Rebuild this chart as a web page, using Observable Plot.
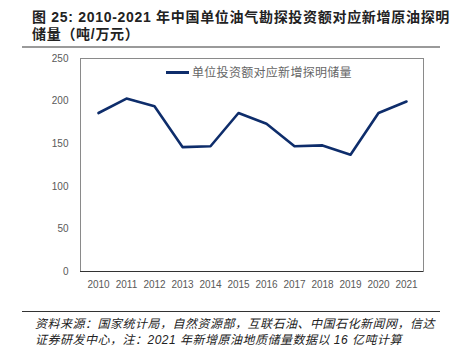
<!DOCTYPE html>
<html>
<head>
<meta charset="utf-8">
<script src="https://cdn.jsdelivr.net/npm/d3@7"></script>
<script src="https://cdn.jsdelivr.net/npm/@observablehq/plot@0.6"></script>
<style>
  body { margin: 0; background: #fff; }
  #wrap { position: relative; width: 451px; height: 350px; overflow: hidden; font-family: "Liberation Sans", "Noto Sans CJK SC", sans-serif; }
  .title { position: absolute; left: 32px; font-weight: bold; font-size: 14px; letter-spacing: 0.7px; color: #222; white-space: nowrap; font-family: "Liberation Sans", "Noto Sans CJK SC", sans-serif; }
  .rule { position: absolute; left: 22px; width: 418px; }
  .cap { position: absolute; left: 35px; font-size: 12px; letter-spacing: 0.5px; font-style: italic; color: #222; white-space: nowrap; font-family: "Liberation Sans", "Noto Sans CJK SC", sans-serif; }
  #chart { position: absolute; left: 0; top: 50px; }
  #legend { position: absolute; left: 166px; top: 63px; font-size: 12px; letter-spacing: 0.3px; color: #666; font-family: "Noto Sans CJK SC", sans-serif; white-space: nowrap; }
  #legend span.sw { display: inline-block; width: 23px; height: 3px; background: #0e2d6b; vertical-align: middle; margin-right: 3px; position: relative; top: -1px; }
</style>
</head>
<body>
<div id="wrap">
  <div class="title" style="top:6px;">图 25: 2010-2021 年中国单位油气勘探投资额对应新增原油探明</div>
  <div class="title" style="top:23px;">储量（吨/万元）</div>
  <div class="rule" style="top:46px; height:2px; background:#9a9a9a;"></div>
  <div id="chart"></div>
  <div id="legend"><span class="sw"></span>单位投资额对应新增探明储量</div>
  <div class="rule" style="top:311px; height:1px; background:#333;"></div>
  <div class="cap" style="top:314px;">资料来源：国家统计局，自然资源部，互联石油、中国石化新闻网，信达</div>
  <div class="cap" style="top:330px;">证券研发中心，注：2021 年新增原油地质储量数据以 16 亿吨计算</div>
</div>
<script>
const years = ["2010","2011","2012","2013","2014","2015","2016","2017","2018","2019","2020","2021"];
const values = [186, 203, 194, 146, 147, 186, 173.5, 147, 148, 137, 186, 199.5];
const yTicks = [0, 50, 100, 150, 200, 250];

const data = years.map((y, i) => ({year: y, value: values[i]}));

const chart = Plot.plot({
  width: 451,
  height: 260,
  marginLeft: 80,
  marginRight: 28,
  marginTop: 8,
  marginBottom: 39,
  style: {fontFamily: "'Liberation Sans', 'Open Sans', sans-serif", fontSize: "10px", color: "#595959", background: "transparent"},
  x: {type: "point", domain: years, padding: 0.5, label: null, tickSize: 0, tickPadding: 9},
  y: {domain: [0, 250], ticks: yTicks, label: null, tickSize: 0, tickPadding: 12},
  marks: [
    Plot.frame({stroke: "#8a8a8a", strokeWidth: 1}),
    Plot.ruleY([0], {stroke: "#333", strokeWidth: 1.2}),
    Plot.lineY(data, {x: "year", y: "value", stroke: "#0e2d6b", strokeWidth: 2.6})
  ]
});
document.getElementById("chart").appendChild(chart);
</script>
</body>
</html>
